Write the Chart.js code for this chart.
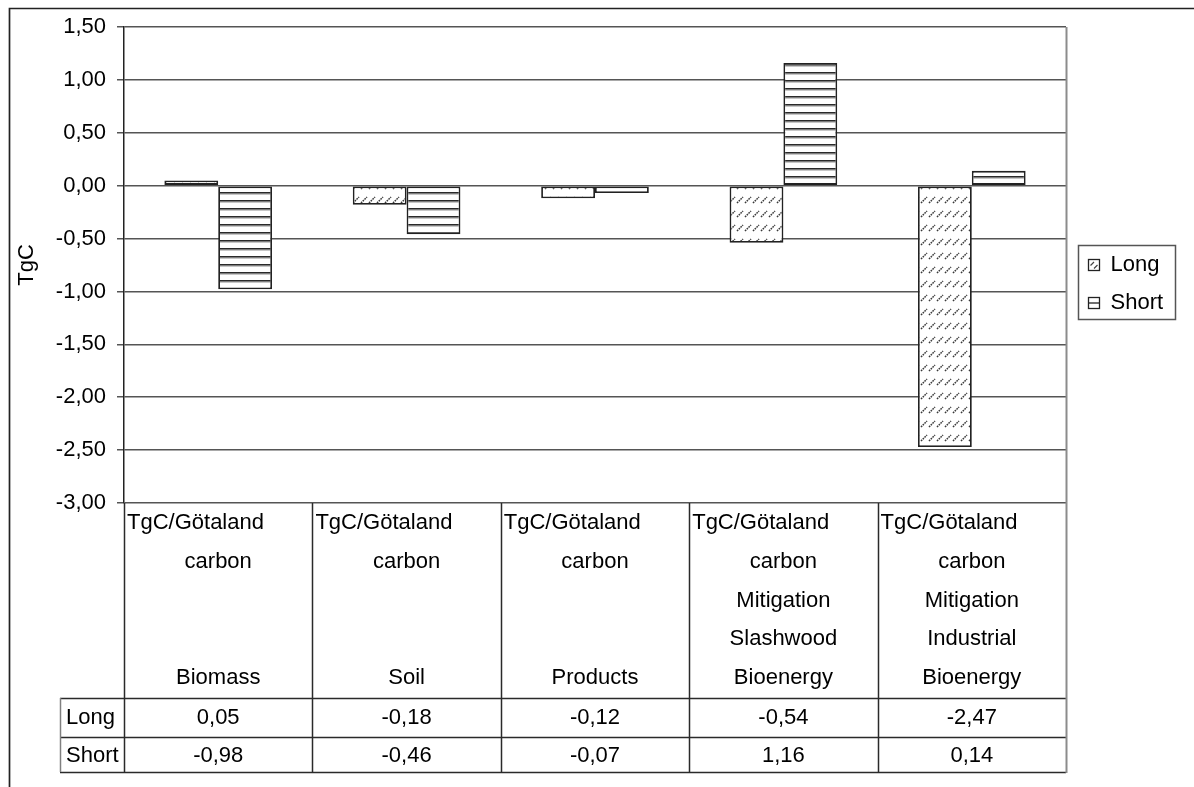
<!DOCTYPE html>
<html>
<head>
<meta charset="utf-8">
<script src="https://cdn.jsdelivr.net/npm/chart.js@4"></script>
<style>
  html, body { margin: 0; padding: 0; background: #fff; }
  canvas { display: block; }
</style>
</head>
<body>
<canvas id="chart" width="1194" height="787"></canvas>
<script>
// Category labels (one entry per text line of the table header cell)
const categories = [
  ['TgC/Götaland', 'carbon', '', '', 'Biomass'],
  ['TgC/Götaland', 'carbon', '', '', 'Soil'],
  ['TgC/Götaland', 'carbon', '', '', 'Products'],
  ['TgC/Götaland', 'carbon', 'Mitigation', 'Slashwood', 'Bioenergy'],
  ['TgC/Götaland', 'carbon', 'Mitigation', 'Industrial', 'Bioenergy']
];
const seriesNames = ['Long', 'Short'];
const longValues = [0.05, -0.18, -0.12, -0.54, -2.47];
const shortValues = [-0.98, -0.46, -0.07, 1.16, 0.14];
const yMin = -3.0;
const yMax = 1.5;
const yStep = 0.5;
const yTitle = 'TgC';

const FONT = '"Liberation Sans", Arial, sans-serif';
const FONT_SIZE = 22;
const fmt = v => v.toFixed(2).replace('.', ',');

// Hatch fills
function longPattern() {
  const c = document.createElement('canvas');
  c.width = 8; c.height = 14;
  const g = c.getContext('2d');
  g.fillStyle = '#fff';
  g.fillRect(0, 0, 8, 14);
  g.strokeStyle = '#3a3a3a';
  g.lineWidth = 1.5;
  g.setLineDash([1.6, 0.9]);
  g.beginPath();
  g.moveTo(1, 7);
  g.lineTo(7, 1);
  g.stroke();
  return g.createPattern(c, 'repeat');
}
function shortPattern() {
  const c = document.createElement('canvas');
  c.width = 8; c.height = 8;
  const g = c.getContext('2d');
  g.fillStyle = '#fff';
  g.fillRect(0, 0, 8, 8);
  g.fillStyle = '#2a2a2a';
  g.fillRect(0, 0, 8, 1.7);
  g.fillStyle = '#b0b0b0';
  g.fillRect(0, 1.7, 8, 1);
  return g.createPattern(c, 'repeat');
}

// Data table under the plot, legend box and outer frame
const tablePlugin = {
  id: 'dataTable',
  afterDraw(chart) {
    const ctx = chart.ctx;
    const area = chart.chartArea;
    const xs = chart.scales.x;
    const n = categories.length;
    const catW = (area.right - area.left) / n;
    const labelTop = area.bottom;
    const row1 = 698, row2 = 737, tableBottom = 772;
    const headLeft = 60;
    const lineStep = 38.75, firstLine = 523;

    ctx.save();
    // grid of the table
    ctx.strokeStyle = '#2a2a2a';
    ctx.lineWidth = 1.5;
    ctx.beginPath();
    for (let i = 0; i < n; i++) {
      const x = Math.round(area.left + i * catW) + 0.5;
      ctx.moveTo(x, labelTop);
      ctx.lineTo(x, tableBottom);
    }
    [row1, row2, tableBottom].forEach(y => {
      ctx.moveTo(headLeft, y + 0.5);
      ctx.lineTo(area.right, y + 0.5);
    });
    ctx.stroke();
    // lighter header border
    ctx.strokeStyle = '#808080';
    ctx.beginPath();
    ctx.moveTo(headLeft + 0.5, row1);
    ctx.lineTo(headLeft + 0.5, tableBottom);
    ctx.stroke();
    // right border of the plot and table
    ctx.strokeStyle = '#8c8c8c';
    ctx.lineWidth = 2;
    ctx.beginPath();
    ctx.moveTo(Math.round(area.right) + 0.5, area.top);
    ctx.lineTo(Math.round(area.right) + 0.5, tableBottom + 1);
    ctx.stroke();

    // texts
    ctx.fillStyle = '#000';
    ctx.font = FONT_SIZE + 'px ' + FONT;
    ctx.textBaseline = 'middle';
    categories.forEach((lines, i) => {
      const cx = xs.getPixelForValue(i);
      const left = area.left + i * catW;
      lines.forEach((t, k) => {
        if (!t) return;
        const y = firstLine + k * lineStep;
        if (k === 0) {
          ctx.textAlign = 'left';
          ctx.fillText(t, left + 3, y);
        } else {
          ctx.textAlign = 'center';
          ctx.fillText(t, cx, y);
        }
      });
      ctx.textAlign = 'center';
      ctx.fillText(fmt(longValues[i]), cx, 718);
      ctx.fillText(fmt(shortValues[i]), cx, 756);
    });
    ctx.textAlign = 'left';
    ctx.fillText(seriesNames[0], headLeft + 6, 718);
    ctx.fillText(seriesNames[1], headLeft + 6, 756);

    // legend
    const lx = Math.round(area.right) + 12.5, ly = 245.5;
    ctx.strokeStyle = '#555';
    ctx.lineWidth = 1.5;
    ctx.strokeRect(lx, ly, 97, 74);
    const sw = 11;
    const sx = lx + 10;
    const s1 = 259.5, s2 = 297.5;
    ctx.fillStyle = '#fff';
    ctx.fillRect(sx, s1, sw, sw);
    ctx.strokeStyle = '#222';
    ctx.lineWidth = 1.3;
    ctx.strokeRect(sx, s1, sw, sw);
    ctx.strokeStyle = '#444';
    ctx.lineWidth = 1.2;
    ctx.beginPath();
    ctx.moveTo(sx + 2, s1 + 6); ctx.lineTo(sx + 5.5, s1 + 2.5);
    ctx.moveTo(sx + 5.5, s1 + 9); ctx.lineTo(sx + 9, s1 + 5.5);
    ctx.stroke();
    ctx.strokeStyle = '#222';
    ctx.lineWidth = 1.3;
    ctx.strokeRect(sx, s2, sw, sw);
    ctx.beginPath();
    ctx.moveTo(sx, s2 + sw / 2); ctx.lineTo(sx + sw, s2 + sw / 2);
    ctx.stroke();
    ctx.fillStyle = '#000';
    ctx.textAlign = 'left';
    ctx.fillText(seriesNames[0], lx + 32, 265);
    ctx.fillText(seriesNames[1], lx + 32, 303);

    // outer frame (top and left edges)
    ctx.strokeStyle = '#222';
    ctx.lineWidth = 1.7;
    ctx.beginPath();
    ctx.moveTo(9.5, chart.height);
    ctx.lineTo(9.5, 8.5);
    ctx.lineTo(chart.width, 8.5);
    ctx.stroke();
    ctx.restore();
  }
};

new Chart(document.getElementById('chart'), {
  type: 'bar',
  data: {
    labels: categories,
    datasets: [
      {
        label: seriesNames[0],
        data: longValues,
        backgroundColor: longPattern(),
        borderColor: '#222',
        borderWidth: 1.8,
        borderSkipped: false
      },
      {
        label: seriesNames[1],
        data: shortValues,
        backgroundColor: shortPattern(),
        borderColor: '#222',
        borderWidth: 1.8,
        borderSkipped: false
      }
    ]
  },
  options: {
    responsive: false,
    animation: false,
    devicePixelRatio: 1,
    layout: { padding: { left: 0, right: 128, top: 27, bottom: 284 } },
    datasets: { bar: { categoryPercentage: 2 / 3.5, barPercentage: 1 } },
    plugins: {
      legend: { display: false },
      tooltip: { enabled: false }
    },
    scales: {
      x: { display: false },
      y: {
        min: yMin,
        max: yMax,
        afterFit: s => { s.width = 124; },
        ticks: {
          stepSize: yStep,
          padding: 11,
          color: '#000',
          font: { family: FONT, size: FONT_SIZE },
          callback: v => fmt(v)
        },
        grid: { color: '#555', lineWidth: 1.5, tickLength: 7, tickColor: '#555' },
        border: { color: '#222', width: 1.5 },
        title: {
          display: true,
          text: yTitle,
          color: '#000',
          font: { family: FONT, size: FONT_SIZE },
          padding: { top: 14, bottom: 0 }
        }
      }
    }
  },
  plugins: [tablePlugin]
});
</script>
</body>
</html>
